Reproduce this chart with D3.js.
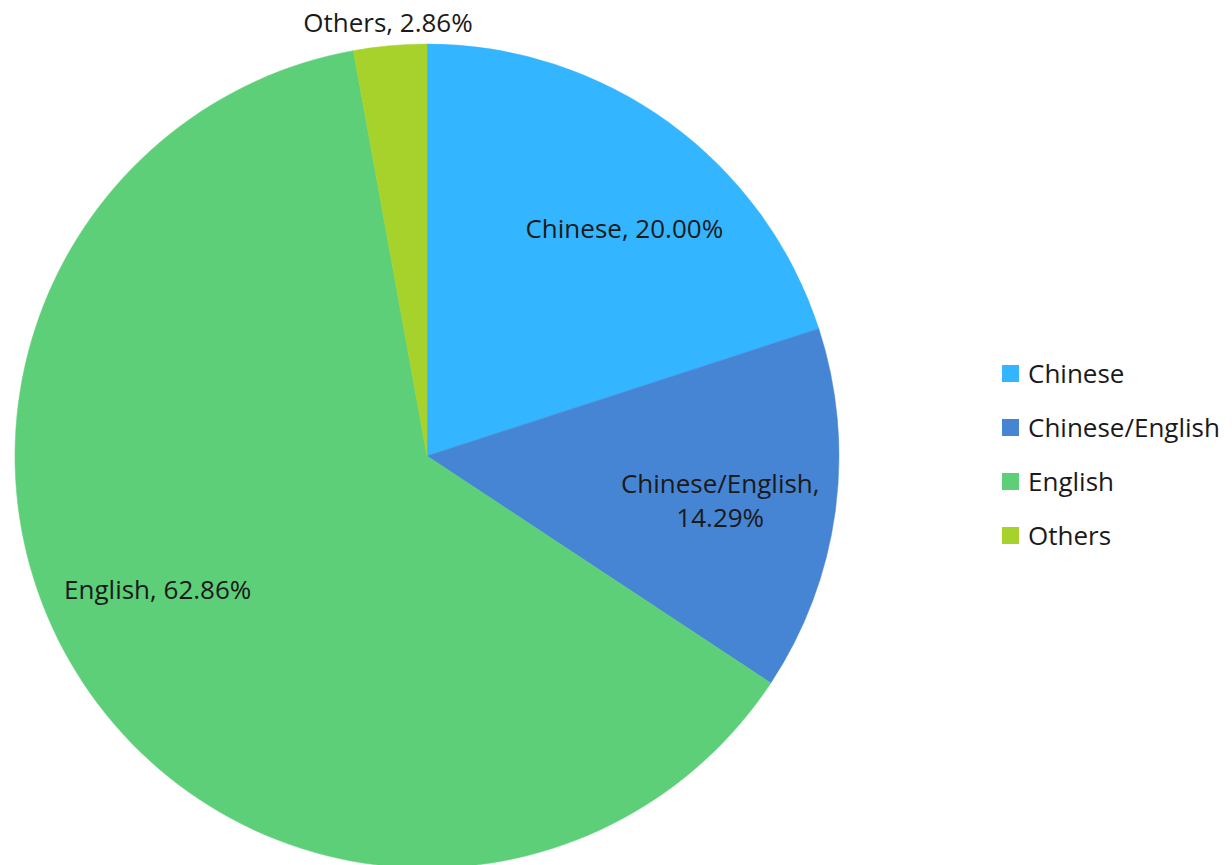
<!DOCTYPE html>
<html>
  <head>
    <script src="https://d3js.org/d3.v7.min.js"></script>
    <style>
      body {margin: 0; background: #fff;}
      text {font-family: "Open Sans", Lato, sans-serif; fill: #1a1a1a;}
    </style>
  </head>
  <body>
    <svg width="1232" height="865"></svg>
  </body>
  <script>
    var categories = ["Chinese", "Chinese/English", "English", "Others"];
    var values = [20.00, 14.29, 62.86, 2.86];
    var colors = ["#33b5ff", "#4684d4", "#5ccf78", "#a6d22b"];
    // label lines as Excel wrapped them
    var labelLines = [["Chinese, 20.00%"], ["Chinese/English,", "14.29%"], ["English, 62.86%"], ["Others, 2.86%"]];
    // label placement: radius fraction and angle nudge (deg)
    var labelRad = [0.73, 0.72, 0.73, 1.055];
    var labelTurn = [5, 1, 7, 0];

    var svg = d3.select("svg");
    var cx = 427, cy = 456, r = 412;

    var pie = d3.pie().sort(null).value(function(d) {return d;});
    var arcs = pie(values);
    var arc = d3.arc().innerRadius(0).outerRadius(r);

    var g = svg.append("g").attr("transform", "translate(" + cx + "," + cy + ")");

    g.selectAll("path")
      .data(arcs)
      .enter()
      .append("path")
      .attr("d", arc)
      .attr("fill", function(d, i) {return colors[i];})
      .attr("stroke", function(d, i) {return colors[i];})
      .attr("stroke-width", 0.5);

    var lbl = g.selectAll("text.lbl")
      .data(arcs)
      .enter()
      .append("text")
      .attr("class", "lbl")
      .attr("text-anchor", "middle")
      .style("font-size", "26px")
      .attr("transform", function(d, i) {
        var a = (d.startAngle + d.endAngle) / 2 + labelTurn[i] * Math.PI / 180;
        var rr = r * labelRad[i];
        var n = labelLines[i].length;
        return "translate(" + (Math.sin(a) * rr) + "," + (-Math.cos(a) * rr - (n - 1) * 17 + 9) + ")";
      });

    lbl.each(function(d, i) {
      var t = d3.select(this);
      labelLines[i].forEach(function(s, k) {
        t.append("tspan").attr("x", 0).attr("dy", k == 0 ? 0 : 34).text(s);
      });
    });

    var leg = svg.append("g").attr("transform", "translate(1002,374)");
    var rows = leg.selectAll("g")
      .data(categories)
      .enter()
      .append("g")
      .attr("transform", function(d, i) {return "translate(0," + (i * 54) + ")";});
    rows.append("rect")
      .attr("x", 0).attr("y", -9)
      .attr("width", 17).attr("height", 17)
      .attr("fill", function(d, i) {return colors[i];});
    rows.append("text")
      .attr("x", 26).attr("y", 9)
      .style("font-size", "26px")
      .text(function(d) {return d;});
  </script>
</html>
